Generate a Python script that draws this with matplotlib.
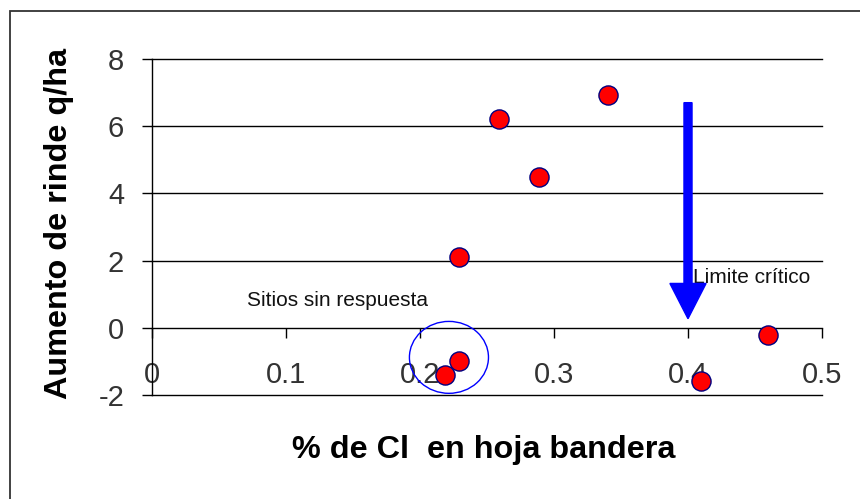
import matplotlib
matplotlib.use("Agg")
import matplotlib.pyplot as plt
from matplotlib.patches import Ellipse, Rectangle

# Data
cl_pct = [0.229, 0.259, 0.289, 0.340, 0.410, 0.460, 0.229, 0.219]
yield_gain = [2.11, 6.22, 4.49, 6.93, -1.58, -0.21, -0.98, -1.40]
x_ticks = [0, 0.1, 0.2, 0.3, 0.4, 0.5]
x_tick_labels = ["0", "0.1", "0.2", "0.3", "0.4", "0.5"]
y_ticks = [-2, 0, 2, 4, 6, 8]
y_tick_labels = ["-2", "0", "2", "4", "6", "8"]
critical_limit = 0.40
xlabel = "% de Cl  en hoja bandera"
ylabel = "Aumento de rinde q/ha"

plt.rcParams['font.family'] = ['Liberation Sans', 'DejaVu Sans']

fig = plt.figure(figsize=(8.6, 4.99), dpi=100)
ax = fig.add_axes([152/860, 1-395/499, 670/860, 336/499])
ax.set_xlim(0, 0.5)
ax.set_ylim(-2, 8)

# gridlines
for yv in [-2, 2, 4, 6, 8]:
    ax.axhline(yv, color='black', lw=1.0, zorder=1, clip_on=False)

ax.spines['top'].set_visible(False)
ax.spines['right'].set_visible(False)
ax.spines['bottom'].set_position(('data', 0))
ax.spines['left'].set_linewidth(1.0)
ax.spines['bottom'].set_linewidth(1.0)

ax.set_xticks(x_ticks)
ax.set_xticklabels(x_tick_labels)
ax.set_yticks(y_ticks)
ax.set_yticklabels(y_tick_labels)
ax.tick_params(axis='x', direction='out', length=7, width=1.0, pad=17,
               labelsize=21, labelcolor='#333333')
ax.tick_params(axis='y', direction='out', length=7, width=1.0, pad=13,
               labelsize=21, labelcolor='#333333')

ax.scatter(cl_pct, yield_gain, s=190, facecolor='#ff0000', edgecolor='#000080',
           linewidth=1.0, zorder=5, clip_on=False)

# arrow for critical limit
ax.arrow(critical_limit, 6.7, 0, -6.43, width=0.006, head_width=0.027,
         head_length=1.05, length_includes_head=True, color='#0000ff',
         zorder=4)

# ellipse around non-responsive sites
ax.add_patch(Ellipse((0.2216, -0.88), 0.059, 2.14, fill=False,
                     edgecolor='#0000ff', lw=1.0, zorder=6))

ax.text(0.071, 0.8, "Sitios sin respuesta", fontsize=15, va='center',
        ha='left', color='#111111')
ax.text(0.404, 1.49, "Limite crítico", fontsize=15, va='center',
        ha='left', color='#111111')

fig.text(484/860, 1-450/499, xlabel, fontsize=23.3, fontweight='bold',
         ha='center', va='center')
fig.text(59.5/860, 1-223.5/499, ylabel, fontsize=23.3, fontweight='bold',
         ha='center', va='center', rotation=90)

# outer frame
fig.patches.append(Rectangle((9.5/860, -0.2), 1.2, 1-11/499+0.2,
                             transform=fig.transFigure, fill=False,
                             edgecolor='#333333', lw=1.3))

fig.savefig("out.png", dpi=100)
